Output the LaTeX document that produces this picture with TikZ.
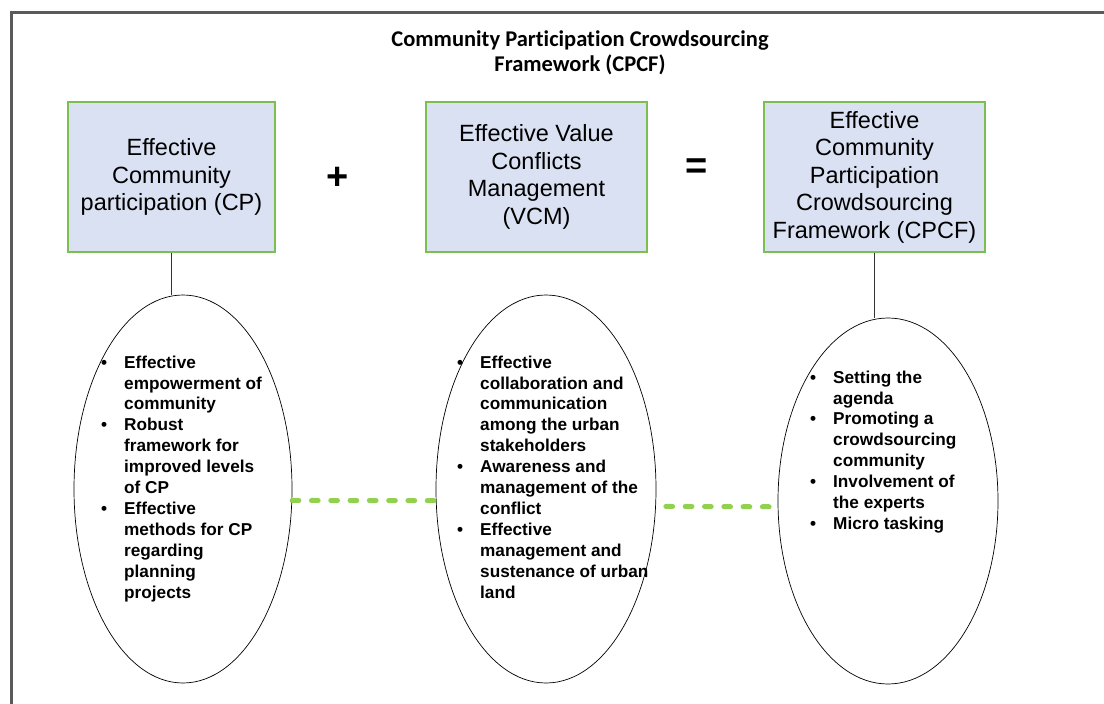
\documentclass[tikz,border=0pt]{standalone}
\usepackage{fontspec}
\setmainfont{Liberation Sans}
\newfontfamily\titlefont[Ligatures=NoCommon]{Carlito}
\usetikzlibrary{shapes.geometric}

\definecolor{boxfill}{RGB}{218,225,242}
\definecolor{boxline}{RGB}{125,190,80}
\definecolor{dashgreen}{RGB}{146,208,80}
\definecolor{framegray}{RGB}{90,90,90}

\newcommand{\bl}{\llap{\textbullet\hspace{17pt}}}

\begin{document}
\begin{tikzpicture}[x=1pt,y=-1pt,
  box/.style={draw=boxline, line width=1.2pt, fill=boxfill, minimum height=150pt,
    inner sep=0pt, align=center, font=\fontsize{23.5}{27.5}\selectfont},
  ell/.style={draw=black, line width=0.7pt, ellipse, inner sep=0pt},
  list/.style={anchor=north west, inner sep=0pt, align=left,
    font=\bfseries\fontsize{17.2}{20.9}\selectfont},
  conn/.style={draw=black!80, line width=0.8pt},
  greendash/.style={draw=dashgreen, line width=5pt, line cap=round,
    dash pattern=on 6.7pt off 12.6pt},
  sym/.style={inner sep=0pt, font=\bfseries\fontsize{38}{38}\selectfont}]
\useasboundingbox (0,0) rectangle (1104,704);
\clip (0,0) rectangle (1104,704);
\draw[framegray, line width=3pt] (11,12) rectangle (1130,730);

\node[font=\titlefont\bfseries\fontsize{22.5}{25}\selectfont, align=center] (title) at (580,53)
  {Community Participation Crowdsourcing\\Framework (CPCF)};

\node[box, minimum width=207pt] (b1) at (171.5,177) {Effective\\Community\\participation (CP)};
\node[box, minimum width=221pt] (b2) at (536.5,177) {Effective Value\\Conflicts\\Management\\(VCM)};
\node[box, minimum width=221pt] (b3) at (874.5,177) {Effective\\Community\\Participation\\Crowdsourcing\\Framework (CPCF)};

\node[sym] (plus) at (338,178) {+};
\node[sym] (eq) at (697,169) {=};

\node[ell, minimum width=218pt, minimum height=388pt] (e1) at (183,489) {};
\node[ell, minimum width=220pt, minimum height=388pt] (e2) at (546,489) {};
\node[ell, minimum width=220pt, minimum height=366pt] (e3) at (888,501) {};

\draw[conn] (b1.south) -- (b1.south |- e1.north);
\draw[conn] (b3.south) -- (b3.south |- e3.north);

\draw[greendash] (e1.-6.3) -- (e2.186.2);
\draw[greendash, shorten <=10pt, shorten >=4pt] (e2.-9.3) -- (e3.183.1);

\node[list] (l1) at (124,355.5) {\bl Effective\\empowerment of\\community\\\bl Robust\\framework for\\improved levels\\of CP\\\bl Effective\\methods for CP\\regarding\\planning\\projects};
\node[list] (l2) at (480,355.5) {\bl Effective\\collaboration and\\communication\\among the urban\\stakeholders\\\bl Awareness and\\management of the\\conflict\\\bl Effective\\management and\\sustenance of urban\\land};
\node[list] (l3) at (833,370.5) {\bl Setting the\\agenda\\\bl Promoting a\\crowdsourcing\\community\\\bl Involvement of\\the experts\\\bl Micro tasking};
\end{tikzpicture}
\end{document}
